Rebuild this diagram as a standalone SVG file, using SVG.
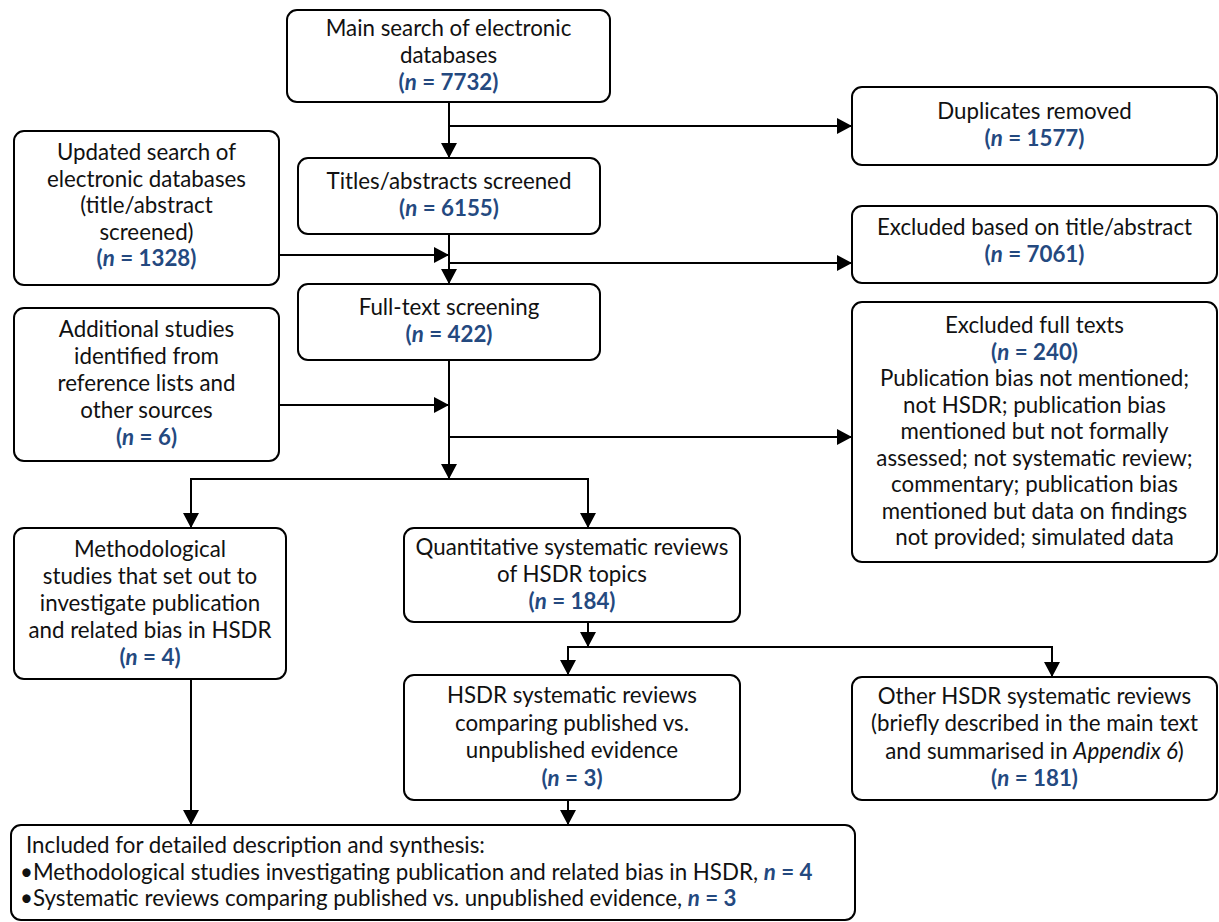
<svg xmlns="http://www.w3.org/2000/svg" width="1219" height="922" viewBox="0 0 1219 922">
<style>
.box{fill:#fff;stroke:#000;stroke-width:2}
text{font-family:Lato,"Liberation Sans",sans-serif;font-size:22.3px;fill:#111}
.c{text-anchor:middle}
.n{fill:#24497f;font-weight:bold}
.i{font-style:italic}
.con{fill:none;stroke:#000;stroke-width:2}
</style>
<defs>
<marker id="ah" viewBox="0 0 15 16" refX="15" refY="8" markerWidth="15" markerHeight="16" markerUnits="userSpaceOnUse" orient="auto"><path d="M0,0 L15,8 L0,16 z" fill="#000"/></marker>
</defs>
<rect width="1219" height="922" fill="#fff"/>
<g id="connectors">
<path class="con" d="M449,102 V158" marker-end="url(#ah)"/>
<path class="con" d="M449,126 H852" marker-end="url(#ah)"/>
<path class="con" d="M449,234 V284" marker-end="url(#ah)"/>
<path class="con" d="M279,255 H449" marker-end="url(#ah)"/>
<path class="con" d="M449,263 H852" marker-end="url(#ah)"/>
<path class="con" d="M449,360 V479" marker-end="url(#ah)"/>
<path class="con" d="M279,405 H449" marker-end="url(#ah)"/>
<path class="con" d="M449,437 H852" marker-end="url(#ah)"/>
<path class="con" d="M449,479 H191 V528" marker-end="url(#ah)"/>
<path class="con" d="M449,479 H588 V528" marker-end="url(#ah)"/>
<path class="con" d="M588,622 V647" marker-end="url(#ah)"/>
<path class="con" d="M588,647 H568 V675" marker-end="url(#ah)"/>
<path class="con" d="M588,647 H1052 V677" marker-end="url(#ah)"/>
<path class="con" d="M191,679 V825" marker-end="url(#ah)"/>
<path class="con" d="M568,800 V825" marker-end="url(#ah)"/>
</g>
<g id="main-search">
<rect class="box" x="287" y="10" width="323" height="92" rx="10"/>
<text class="c" x="448.5" y="36">Main search of electronic</text>
<text class="c" x="448.5" y="63">databases</text>
<text class="c n" x="448.5" y="90">(<tspan class="i">n</tspan> = 7732)</text>
</g>
<g id="duplicates">
<rect class="box" x="852" y="87" width="365" height="78" rx="10"/>
<text class="c" x="1034.5" y="119">Duplicates removed</text>
<text class="c n" x="1034.5" y="146">(<tspan class="i">n</tspan> = 1577)</text>
</g>
<g id="updated-search">
<rect class="box" x="14" y="131" width="265" height="154" rx="10"/>
<text class="c" x="146.5" y="160">Updated search of</text>
<text class="c" x="146.5" y="187">electronic databases</text>
<text class="c" x="146.5" y="213">(title/abstract</text>
<text class="c" x="146.5" y="240">screened)</text>
<text class="c n" x="146.5" y="266">(<tspan class="i">n</tspan> = 1328)</text>
</g>
<g id="titles-screened">
<rect class="box" x="298" y="158" width="302" height="76" rx="10"/>
<text class="c" x="449" y="189">Titles/abstracts screened</text>
<text class="c n" x="449" y="216">(<tspan class="i">n</tspan> = 6155)</text>
</g>
<g id="excluded-title">
<rect class="box" x="852" y="206" width="365" height="77" rx="10"/>
<text class="c" x="1034.5" y="235">Excluded based on title/abstract</text>
<text class="c n" x="1034.5" y="262">(<tspan class="i">n</tspan> = 7061)</text>
</g>
<g id="full-text">
<rect class="box" x="298" y="284" width="302" height="76" rx="10"/>
<text class="c" x="449" y="315">Full-text screening</text>
<text class="c n" x="449" y="342">(<tspan class="i">n</tspan> = 422)</text>
</g>
<g id="additional-studies">
<rect class="box" x="14" y="308" width="265" height="153" rx="10"/>
<text class="c" x="146.5" y="337">Additional studies</text>
<text class="c" x="146.5" y="364">identified from</text>
<text class="c" x="146.5" y="391">reference lists and</text>
<text class="c" x="146.5" y="418">other sources</text>
<text class="c n" x="146.5" y="445">(<tspan class="i">n</tspan> = 6)</text>
</g>
<g id="excluded-full">
<rect class="box" x="852" y="302" width="365" height="260" rx="10"/>
<text class="c" x="1034.5" y="333">Excluded full texts</text>
<text class="c n" x="1034.5" y="359.5">(<tspan class="i">n</tspan> = 240)</text>
<text class="c" x="1034.5" y="386">Publication bias not mentioned;</text>
<text class="c" x="1034.5" y="412.5">not HSDR; publication bias</text>
<text class="c" x="1034.5" y="439">mentioned but not formally</text>
<text class="c" x="1034.5" y="465.5">assessed; not systematic review;</text>
<text class="c" x="1034.5" y="492">commentary; publication bias</text>
<text class="c" x="1034.5" y="518.5">mentioned but data on findings</text>
<text class="c" x="1034.5" y="545">not provided; simulated data</text>
</g>
<g id="methodological">
<rect class="box" x="14" y="528" width="272" height="151" rx="10"/>
<text class="c" x="150" y="556.5">Methodological</text>
<text class="c" x="150" y="583.5">studies that set out to</text>
<text class="c" x="150" y="610.5">investigate publication</text>
<text class="c" x="150" y="637.5">and related bias in HSDR</text>
<text class="c n" x="150" y="664.5">(<tspan class="i">n</tspan> = 4)</text>
</g>
<g id="quantitative">
<rect class="box" x="404" y="528" width="336" height="94" rx="10"/>
<text class="c" x="572" y="555">Quantitative systematic reviews</text>
<text class="c" x="572" y="582">of HSDR topics</text>
<text class="c n" x="572" y="609">(<tspan class="i">n</tspan> = 184)</text>
</g>
<g id="hsdr-comparing">
<rect class="box" x="404" y="675" width="336" height="125" rx="10"/>
<text class="c" x="572" y="703">HSDR systematic reviews</text>
<text class="c" x="572" y="731">comparing published vs.</text>
<text class="c" x="572" y="758">unpublished evidence</text>
<text class="c n" x="572" y="786">(<tspan class="i">n</tspan> = 3)</text>
</g>
<g id="other-hsdr">
<rect class="box" x="852" y="677" width="365" height="123" rx="10"/>
<text class="c" x="1034.5" y="704">Other HSDR systematic reviews</text>
<text class="c" x="1034.5" y="731">(briefly described in the main text</text>
<text class="c" x="1034.5" y="759">and summarised in <tspan class="i">Appendix 6</tspan>)</text>
<text class="c n" x="1034.5" y="786">(<tspan class="i">n</tspan> = 181)</text>
</g>
<g id="included">
<rect class="box" x="11" y="825" width="844" height="95" rx="10"/>
<text x="26" y="853">Included for detailed description and synthesis:</text>
<text x="20" y="880">•Methodological studies investigating publication and related bias in HSDR, <tspan class="n"><tspan class="i">n</tspan> = 4</tspan></text>
<text x="20" y="906">•Systematic reviews comparing published vs. unpublished evidence, <tspan class="n"><tspan class="i">n</tspan> = 3</tspan></text>
</g>
</svg>
